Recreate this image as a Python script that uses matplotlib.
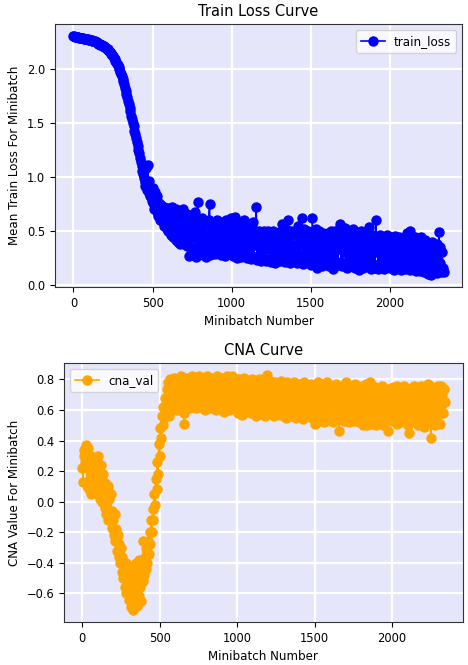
import numpy as np
import matplotlib
matplotlib.use('Agg')
from matplotlib import pyplot as plt

step = 5  # one reading every 5 minibatches

train_loss = [
    2.31, 2.31, 2.30, 2.30, 2.30, 2.30, 2.30, 2.29, 2.29, 2.29, 2.29, 2.29, 2.29, 2.28, 2.28, 2.28, 2.28, 2.28, 2.28, 2.27,
    2.27, 2.27, 2.27, 2.27, 2.26, 2.26, 2.26, 2.26, 2.25, 2.25, 2.25, 2.24, 2.24, 2.24, 2.23, 2.23, 2.23, 2.22, 2.22, 2.21,
    2.21, 2.20, 2.19, 2.19, 2.18, 2.17, 2.16, 2.15, 2.14, 2.13, 2.12, 2.11, 2.10, 2.08, 2.07, 2.05, 2.04, 2.02, 2.00, 1.98,
    1.96, 1.94, 1.91, 1.89, 1.86, 1.83, 1.80, 1.77, 1.74, 1.71, 1.68, 1.64, 1.61, 1.57, 1.54, 1.50, 1.47, 1.43, 1.40, 1.36,
    1.33, 1.29, 1.25, 1.22, 1.18, 1.14, 1.10, 1.06, 1.03, 0.99, 0.95, 0.92, 1.08, 0.88, 1.11, 0.85, 0.96, 0.82, 0.90, 0.78,
    0.76, 0.90, 0.70, 0.86, 0.74, 0.68, 0.82, 0.64, 0.76, 0.70, 0.60, 0.74, 0.66, 0.58, 0.72, 0.55, 0.70, 0.62, 0.52, 0.71,
    0.50, 0.68, 0.58, 0.46, 0.72, 0.55, 0.44, 0.66, 0.60, 0.42, 0.70, 0.52, 0.40, 0.64, 0.56, 0.38, 0.68, 0.50, 0.43, 0.70,
    0.38, 0.62, 0.50, 0.36, 0.66, 0.46, 0.27, 0.60, 0.52, 0.34, 0.64, 0.45, 0.30, 0.68, 0.54, 0.26, 0.58, 0.77, 0.35, 0.60,
    0.47, 0.30, 0.62, 0.52, 0.28, 0.58, 0.44, 0.26, 0.56, 0.40, 0.32, 0.60, 0.75, 0.28, 0.55, 0.36, 0.30, 0.58, 0.45, 0.29,
    0.52, 0.38, 0.60, 0.30, 0.47, 0.55, 0.28, 0.42, 0.58, 0.33, 0.50, 0.27, 0.44, 0.60, 0.31, 0.48, 0.56, 0.29, 0.40, 0.62,
    0.35, 0.55, 0.27, 0.46, 0.63, 0.30, 0.50, 0.25, 0.42, 0.58, 0.32, 0.48, 0.26, 0.55, 0.38, 0.60, 0.28, 0.45, 0.52, 0.25,
    0.40, 0.56, 0.30, 0.47, 0.24, 0.53, 0.36, 0.58, 0.26, 0.44, 0.50, 0.72, 0.23, 0.38, 0.28, 0.50, 0.44, 0.22, 0.48, 0.34,
    0.25, 0.50, 0.40, 0.22, 0.46, 0.33, 0.50, 0.24, 0.42, 0.48, 0.21, 0.36, 0.50, 0.26, 0.44, 0.20, 0.47, 0.34, 0.23, 0.46,
    0.38, 0.22, 0.50, 0.30, 0.56, 0.24, 0.45, 0.40, 0.21, 0.52, 0.33, 0.60, 0.25, 0.46, 0.20, 0.50, 0.37, 0.24, 0.47, 0.30,
    0.22, 0.50, 0.36, 0.20, 0.55, 0.28, 0.45, 0.24, 0.48, 0.62, 0.19, 0.40, 0.52, 0.26, 0.45, 0.21, 0.50, 0.32, 0.24, 0.45,
    0.18, 0.40, 0.62, 0.25, 0.48, 0.20, 0.52, 0.34, 0.16, 0.46, 0.28, 0.50, 0.22, 0.42, 0.17, 0.48, 0.35, 0.24, 0.44, 0.19,
    0.42, 0.26, 0.48, 0.17, 0.38, 0.50, 0.22, 0.44, 0.15, 0.40, 0.30, 0.50, 0.20, 0.45, 0.18, 0.42, 0.33, 0.56, 0.21, 0.40,
    0.17, 0.48, 0.30, 0.53, 0.20, 0.44, 0.16, 0.40, 0.50, 0.24, 0.46, 0.18, 0.38, 0.52, 0.21, 0.44, 0.16, 0.36, 0.48, 0.23,
    0.44, 0.14, 0.40, 0.50, 0.22, 0.42, 0.16, 0.38, 0.48, 0.20, 0.44, 0.17, 0.36, 0.54, 0.22, 0.40, 0.15, 0.46, 0.40, 0.19,
    0.42, 0.16, 0.60, 0.30, 0.44, 0.15, 0.38, 0.46, 0.20, 0.40, 0.17, 0.44, 0.28, 0.15, 0.42, 0.36, 0.18, 0.46, 0.22, 0.40,
    0.16, 0.38, 0.44, 0.19, 0.36, 0.14, 0.45, 0.26, 0.40, 0.16, 0.38, 0.44, 0.18, 0.34, 0.14, 0.42, 0.28, 0.17, 0.40, 0.15,
    0.44, 0.24, 0.48, 0.16, 0.38, 0.14, 0.50, 0.30, 0.18, 0.42, 0.15, 0.36, 0.44, 0.13, 0.40, 0.22, 0.16, 0.38, 0.13, 0.44,
    0.26, 0.15, 0.40, 0.12, 0.36, 0.42, 0.16, 0.34, 0.10, 0.38, 0.14, 0.32, 0.09, 0.40, 0.20, 0.12, 0.36, 0.15, 0.30, 0.11,
    0.38, 0.14, 0.49, 0.20, 0.35, 0.12, 0.30, 0.16, 0.12,
]

cna_val = [
    0.22, 0.13, 0.30, 0.34, 0.26, 0.37, 0.10, 0.28, 0.35, 0.08, 0.20, 0.30, 0.05, 0.24, 0.15, 0.28, 0.06, 0.22, 0.12, 0.25,
    0.30, 0.10, 0.20, 0.02, 0.24, 0.14, 0.00, 0.18, 0.08, -0.04, 0.12, -0.08, 0.05, 0.10, -0.12, 0.02, -0.07, 0.05, -0.17, -0.06,
    -0.12, -0.22, -0.08, -0.26, -0.18, -0.32, -0.22, -0.36, -0.28, -0.40, -0.30, -0.46, -0.36, -0.50, -0.42, -0.56, -0.40, -0.60, -0.46, -0.52,
    -0.42, -0.64, -0.50, -0.69, -0.44, -0.60, -0.71, -0.48, -0.66, -0.40, -0.58, -0.68, -0.45, -0.62, -0.38, -0.56, -0.65, -0.42, -0.52, -0.26,
    -0.48, -0.36, -0.44, -0.30, -0.40, -0.26, -0.34, -0.20, -0.28, -0.12, -0.20, -0.05, -0.12, 0.05, -0.02, 0.15, 0.08, 0.26, 0.18, 0.38,
    0.30, 0.48, 0.42, 0.56, 0.50, 0.62, 0.55, 0.68, 0.58, 0.74, 0.62, 0.78, 0.56, 0.72, 0.80, 0.64, 0.76, 0.60, 0.81, 0.68,
    0.62, 0.78, 0.70, 0.60, 0.80, 0.66, 0.74, 0.82, 0.63, 0.76, 0.69, 0.58, 0.51, 0.72, 0.64, 0.81, 0.67, 0.75, 0.61, 0.80,
    0.70, 0.62, 0.82, 0.74, 0.64, 0.78, 0.68, 0.61, 0.80, 0.72, 0.65, 0.82, 0.70, 0.62, 0.77, 0.81, 0.66, 0.73, 0.60, 0.79,
    0.68, 0.82, 0.63, 0.75, 0.80, 0.61, 0.72, 0.66, 0.81, 0.70, 0.62, 0.78, 0.74, 0.60, 0.82, 0.67, 0.76, 0.63, 0.80, 0.71,
    0.64, 0.81, 0.70, 0.59, 0.78, 0.73, 0.62, 0.82, 0.66, 0.75, 0.60, 0.79, 0.71, 0.64, 0.82, 0.68, 0.61, 0.77, 0.80, 0.65,
    0.72, 0.58, 0.80, 0.66, 0.62, 0.78, 0.70, 0.57, 0.76, 0.81, 0.64, 0.73, 0.59, 0.79, 0.68, 0.62, 0.77, 0.71, 0.58, 0.80,
    0.66, 0.75, 0.60, 0.79, 0.70, 0.56, 0.77, 0.64, 0.80, 0.68, 0.58, 0.76, 0.72, 0.61, 0.80, 0.66, 0.56, 0.78, 0.70, 0.83,
    0.62, 0.74, 0.58, 0.79, 0.68, 0.60, 0.76, 0.71, 0.56, 0.78, 0.65, 0.72, 0.59, 0.77, 0.63, 0.70, 0.57, 0.79, 0.66, 0.74,
    0.58, 0.76, 0.69, 0.55, 0.78, 0.64, 0.72, 0.59, 0.77, 0.67, 0.56, 0.75, 0.70, 0.61, 0.78, 0.65, 0.55, 0.74, 0.69, 0.60,
    0.77, 0.63, 0.57, 0.74, 0.68, 0.54, 0.78, 0.66, 0.60, 0.75, 0.70, 0.56, 0.73, 0.64, 0.58, 0.77, 0.67, 0.55, 0.72, 0.62,
    0.51, 0.74, 0.66, 0.56, 0.78, 0.62, 0.53, 0.72, 0.68, 0.58, 0.76, 0.61, 0.52, 0.74, 0.65, 0.56, 0.78, 0.63, 0.54, 0.71,
    0.66, 0.57, 0.76, 0.62, 0.52, 0.73, 0.68, 0.55, 0.77, 0.60, 0.70, 0.54, 0.46, 0.74, 0.63, 0.57, 0.76, 0.66, 0.53, 0.72,
    0.60, 0.78, 0.55, 0.69, 0.64, 0.52, 0.75, 0.67, 0.56, 0.73, 0.61, 0.53, 0.77, 0.65, 0.58, 0.72, 0.68, 0.52, 0.74, 0.62,
    0.55, 0.76, 0.50, 0.70, 0.64, 0.53, 0.77, 0.60, 0.50, 0.73, 0.67, 0.56, 0.78, 0.62, 0.51, 0.72, 0.66, 0.54, 0.75, 0.50,
    0.69, 0.58, 0.74, 0.52, 0.64, 0.71, 0.55, 0.76, 0.60, 0.50, 0.72, 0.66, 0.54, 0.74, 0.61, 0.46, 0.70, 0.57, 0.73, 0.63,
    0.53, 0.75, 0.65, 0.55, 0.72, 0.60, 0.51, 0.76, 0.67, 0.56, 0.71, 0.62, 0.52, 0.74, 0.64, 0.57, 0.76, 0.60, 0.53, 0.70,
    0.66, 0.50, 0.45, 0.74, 0.58, 0.70, 0.64, 0.53, 0.76, 0.61, 0.55, 0.72, 0.67, 0.50, 0.74, 0.62, 0.56, 0.76, 0.65, 0.52,
    0.71, 0.60, 0.49, 0.74, 0.66, 0.55, 0.77, 0.62, 0.52, 0.70, 0.42, 0.68, 0.57, 0.75, 0.63, 0.50, 0.73, 0.66, 0.56, 0.76,
    0.60, 0.72, 0.51, 0.76, 0.64, 0.70, 0.58, 0.74, 0.65,
]

loss_x = np.arange(len(train_loss)) * step
cna_x = np.arange(len(cna_val)) * step

plt.rcParams['xtick.labelsize'] = 8.3
plt.rcParams['ytick.labelsize'] = 8.3
plt.rcParams['axes.labelsize'] = 8.6
plt.rcParams['axes.titlesize'] = 10.5
plt.rcParams['legend.fontsize'] = 8.6

bg = '#e6e6fa'


def style(ax):
    ax.set_facecolor(bg)
    ax.grid(True, color='white', linewidth=1.6)
    ax.set_axisbelow(True)
    for s in ax.spines.values():
        s.set_color('#333333')


fig = plt.figure(figsize=(4.68, 6.65), dpi=100)

ax1 = fig.add_axes([0.1175, 0.5684, 0.87, 0.3955])
style(ax1)
ax1.plot(loss_x, train_loss, 'o-', color='blue', label='train_loss', markersize=6.5, linewidth=1.2)
ax1.set_title('Train Loss Curve')
ax1.set_xlabel('Minibatch Number')
ax1.set_ylabel('Mean Train Loss For Minibatch')
ax1.set_xticks([0, 500, 1000, 1500, 2000])
ax1.legend(loc='upper right')

ax2 = fig.add_axes([0.1368, 0.0647, 0.852, 0.3893])
style(ax2)
ax2.plot(cna_x, cna_val, 'o-', color='orange', label='cna_val', markersize=6.5, linewidth=1.2)
ax2.set_title('CNA Curve')
ax2.set_xlabel('Minibatch Number')
ax2.set_ylabel('CNA Value For Minibatch')
ax2.set_xticks([0, 500, 1000, 1500, 2000])
ax2.legend(loc='upper left')

fig.savefig('out.png', dpi=100)
